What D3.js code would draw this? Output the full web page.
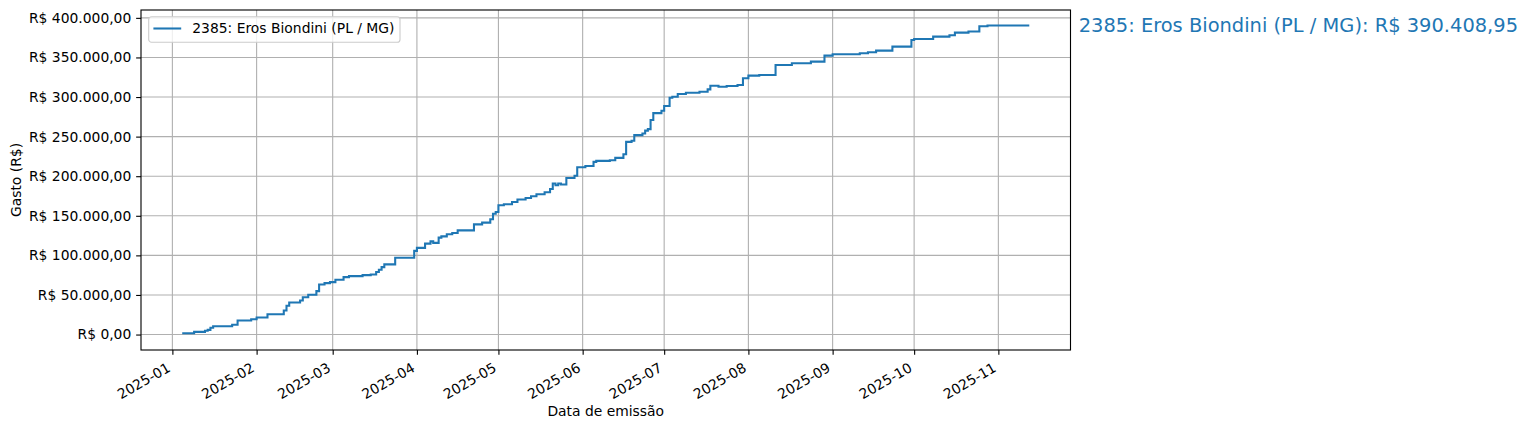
<!DOCTYPE html>
<html>
<head>
<meta charset="utf-8">
<script src="https://cdn.jsdelivr.net/npm/d3@7"></script>
<style>
  html, body { margin: 0; padding: 0; background: #fff; }
  svg { display: block; font-family: "DejaVu Sans", sans-serif; }
</style>
</head>
<body>
<div id="chart"></div>
<script>
// ---- data ----
const seriesName = "2385: Eros Biondini (PL / MG)";
const finalTotal = 390408.95;
const emissionDates = [
  "2025-01-05","2025-01-09","2025-01-13","2025-01-14","2025-01-15","2025-01-16","2025-01-23","2025-01-25","2025-01-30",
  "2025-02-01","2025-02-05","2025-02-11","2025-02-12","2025-02-13","2025-02-17","2025-02-18","2025-02-20","2025-02-23",
  "2025-02-24","2025-02-26","2025-02-28","2025-03-02","2025-03-05","2025-03-07","2025-03-12","2025-03-15","2025-03-17",
  "2025-03-18","2025-03-19","2025-03-20","2025-03-24","2025-03-31","2025-04-01","2025-04-04","2025-04-06","2025-04-07",
  "2025-04-09","2025-04-10","2025-04-12","2025-04-14","2025-04-16","2025-04-22","2025-04-25","2025-04-28","2025-04-29",
  "2025-04-30","2025-05-01","2025-05-03","2025-05-06","2025-05-08","2025-05-11","2025-05-13","2025-05-15","2025-05-18",
  "2025-05-20","2025-05-21","2025-05-22","2025-05-23","2025-05-24","2025-05-26","2025-05-29","2025-05-30","2025-06-02",
  "2025-06-05","2025-06-06","2025-06-11","2025-06-13","2025-06-16","2025-06-17","2025-06-19","2025-06-20","2025-06-23",
  "2025-06-24","2025-06-25","2025-06-26","2025-06-27","2025-06-30","2025-07-01","2025-07-03","2025-07-04","2025-07-06",
  "2025-07-09","2025-07-14","2025-07-17","2025-07-18","2025-07-21","2025-07-24","2025-07-28","2025-07-30","2025-08-01",
  "2025-08-05","2025-08-11","2025-08-17","2025-08-24","2025-08-29","2025-09-01","2025-09-11","2025-09-14","2025-09-17",
  "2025-09-23","2025-09-30","2025-10-01","2025-10-08","2025-10-14","2025-10-16","2025-10-21","2025-10-25","2025-10-28",
  "2025-11-12"
];
const cumulativeSpend = [
  1650,3400,4700,5950,8500,10500,12300,17700,19400,
  21500,25700,30400,36300,40500,43000,47200,50300,54800,
  63300,64900,66200,69200,72500,73800,75100,75900,78900,
  81900,85200,88600,97100,105700,109500,114800,117700,115800,
  122400,124000,126600,128200,131600,139200,141400,145600,152500,
  154800,163300,164600,167500,170500,172500,174700,177200,179700,
  183800,190800,188600,190800,189600,197800,200600,211400,212900,
  218100,219400,220200,223200,227800,243400,244700,251900,254000,
  257600,259500,270900,279700,282700,288600,299100,300400,303800,
  305400,306700,309700,314300,313000,313900,315200,323700,327000,
  327800,340500,342600,344700,352300,354000,355300,356600,358600,
  363700,372100,373400,376300,378100,381400,382700,389300,390408.95,
  390408.95
];
const yTickValues = [0,50000,100000,150000,200000,250000,300000,350000,400000];
const xTickMonths = ["2025-01","2025-02","2025-03","2025-04","2025-05","2025-06","2025-07","2025-08","2025-09","2025-10","2025-11"];
const xAxisTitle = "Data de emissão";
const yAxisTitle = "Gasto (R$)";

// ---- layout ----
const W = 1529, H = 430;
const FONT = "DejaVu Sans";
const FS = 13.89, FS_BIG = 19.44;   // 10pt / 14pt at 100 dpi
const LW = 1.11, TICK = 4.86;
const m = { left: 141, right: 1529 - 1070.5, top: 10, bottom: 430 - 350 };
const iw = W - m.left - m.right, ih = H - m.top - m.bottom;
const blue = "#1f77b4";

const parse = d3.utcParse("%Y-%m-%d");
const data = emissionDates.map((d, i) => ({ date: parse(d), value: cumulativeSpend[i] }));

const ptBR = d3.formatLocale({ decimal: ",", thousands: ".", grouping: [3], currency: ["R$ ", ""] });
const fmtMoney = v => "R$ " + ptBR.format(",.2f")(v);

// matplotlib-style 5% margins
const [x0, x1] = d3.extent(data, d => d.date);
const xpad = (x1 - x0) * 0.05;
const x = d3.scaleUtc().domain([new Date(+x0 - xpad), new Date(+x1 + xpad)]).range([0, iw]);
const ymin = 0, ymax = d3.max(data, d => d.value);
const ypad = (ymax - ymin) * 0.05;
const y = d3.scaleLinear().domain([ymin - ypad, ymax + ypad]).range([ih, 0]);

const svg = d3.select("#chart").append("svg").attr("width", W).attr("height", H);
svg.append("rect").attr("width", W).attr("height", H).attr("fill", "#fff");
const g = svg.append("g").attr("transform", `translate(${m.left},${m.top})`);

const xTicks = xTickMonths.map(s => d3.utcParse("%Y-%m")(s));

// grid
g.append("g").selectAll("line").data(xTicks).join("line")
  .attr("x1", d => x(d)).attr("x2", d => x(d)).attr("y1", 0).attr("y2", ih)
  .attr("stroke", "#b0b0b0").attr("stroke-width", LW);
g.append("g").selectAll("line").data(yTickValues).join("line")
  .attr("x1", 0).attr("x2", iw).attr("y1", d => y(d)).attr("y2", d => y(d))
  .attr("stroke", "#b0b0b0").attr("stroke-width", LW);

// axes
const xAxis = g.append("g").attr("transform", `translate(0,${ih})`)
  .call(d3.axisBottom(x).tickValues(xTicks).tickFormat(d3.utcFormat("%Y-%m")).tickSizeOuter(0).tickSize(TICK).tickPadding(TICK));
xAxis.attr("font-family", FONT).attr("font-size", FS);
xAxis.select(".domain").remove();
xAxis.selectAll("line").attr("stroke", "#000").attr("stroke-width", LW);
xAxis.selectAll("text")
  .attr("fill", "#000")
  .attr("text-anchor", "end")
  .attr("dy", null).attr("y", 0)
  .attr("transform", "translate(-1.6,20.6) rotate(-30)");

const yAxis = g.append("g")
  .call(d3.axisLeft(y).tickValues(yTickValues).tickFormat(fmtMoney).tickSizeOuter(0).tickSize(TICK).tickPadding(TICK));
yAxis.attr("font-family", FONT).attr("font-size", FS);
yAxis.select(".domain").remove();
yAxis.selectAll("line").attr("stroke", "#000").attr("stroke-width", LW);
yAxis.selectAll("text").attr("fill", "#000");

// line
const line = d3.line().x(d => x(d.date)).y(d => y(d.value)).curve(d3.curveStepAfter);
g.append("path").datum(data).attr("d", line)
  .attr("fill", "none").attr("stroke", blue).attr("stroke-width", 2.08)
  .attr("stroke-linejoin", "miter").attr("stroke-linecap", "square");

// frame
g.append("rect").attr("width", iw).attr("height", ih)
  .attr("fill", "none").attr("stroke", "#000").attr("stroke-width", LW);

// legend
const lg = g.append("g").attr("transform", "translate(7.7,6.7)");
lg.append("rect").attr("width", 251.3).attr("height", 25.6).attr("rx", 2.8).attr("ry", 2.8)
  .attr("fill", "#fff").attr("fill-opacity", 0.8).attr("stroke", "#cccccc").attr("stroke-width", LW);
lg.append("line").attr("x1", 4.7).attr("x2", 32.5).attr("y1", 11.8).attr("y2", 11.8)
  .attr("stroke", blue).attr("stroke-width", 2.08);
lg.append("text").attr("x", 43.6).attr("y", 16.8).attr("font-family", FONT).attr("font-size", FS).attr("fill", "#000").text(seriesName);

// end annotation
const last = data[data.length - 1];
svg.append("text")
  .attr("x", 1078.7).attr("y", m.top + y(last.value) + 6.8)
  .attr("font-family", FONT).attr("font-size", FS_BIG).attr("fill", blue)
  .text(`${seriesName}: ${fmtMoney(finalTotal)}`);

// axis titles
svg.append("text").attr("x", m.left + iw / 2).attr("y", 416)
  .attr("text-anchor", "middle").attr("font-family", FONT).attr("font-size", FS).attr("fill", "#000").text(xAxisTitle);
svg.append("text").attr("transform", `translate(20.5,${m.top + ih / 2}) rotate(-90)`)
  .attr("text-anchor", "middle").attr("font-family", FONT).attr("font-size", FS).attr("fill", "#000").text(yAxisTitle);
</script>
</body>
</html>
